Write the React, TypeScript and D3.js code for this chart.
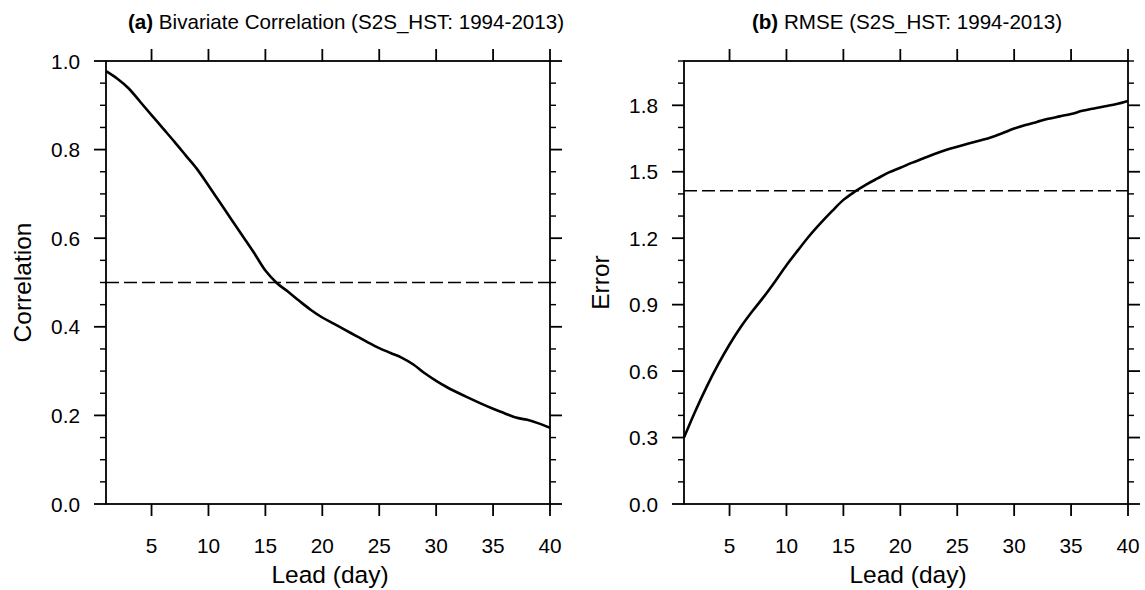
import React from "react";
import * as d3 from "d3";

// Lead times (days)
const leadDays: number[] = Array.from({ length: 40 }, (_, i) => i + 1);

// Bivariate correlation by lead day
const correlation: number[] = [
  0.977, 0.96, 0.938, 0.908, 0.878, 0.848, 0.818, 0.787, 0.756, 0.719,
  0.681, 0.643, 0.605, 0.567, 0.527, 0.499, 0.479, 0.458, 0.438, 0.421,
  0.407, 0.393, 0.379, 0.365, 0.352, 0.341, 0.33, 0.315, 0.295, 0.278,
  0.263, 0.25, 0.238, 0.226, 0.215, 0.205, 0.195, 0.19, 0.182, 0.172,
];

// RMSE by lead day
const rmse: number[] = [
  0.3, 0.42, 0.53, 0.63, 0.72, 0.8, 0.87, 0.935, 1.005, 1.078,
  1.145, 1.21, 1.268, 1.322, 1.373, 1.41, 1.442, 1.47, 1.497, 1.518,
  1.54, 1.56, 1.58, 1.598, 1.613, 1.627, 1.641, 1.656, 1.675, 1.695,
  1.711, 1.725, 1.739, 1.75, 1.761, 1.775, 1.786, 1.796, 1.806, 1.82,
];

const xTicks: number[] = [5, 10, 15, 20, 25, 30, 35, 40];

const corrMajor: number[] = [0, 0.2, 0.4, 0.6, 0.8, 1.0];
const rmseMajor: number[] = [0, 0.3, 0.6, 0.9, 1.2, 1.5, 1.8];

const corrThreshold = 0.5;
const rmseThreshold = Math.SQRT2;

const FONT = "'Liberation Sans', Arial, Helvetica, sans-serif";

type PanelProps = {
  left: number;
  right: number;
  titleX: number;
  tag: string;
  title: string;
  yLabel: string;
  values: number[];
  yMax: number;
  majors: number[];
  minorStep: number;
  threshold: number;
};

const TOP = 61;
const BOTTOM = 504;
const MAJOR_LEN = 12;
const MINOR_LEN = 6;

function Panel(p: PanelProps) {
  const x = d3.scaleLinear().domain([1, 40]).range([p.left, p.right]);
  const y = d3.scaleLinear().domain([0, p.yMax]).range([BOTTOM, TOP]);

  const nMinor = Math.round(p.yMax / p.minorStep);
  const minors = d3
    .range(0, nMinor + 1)
    .map((i) => +(i * p.minorStep).toFixed(4))
    .filter((v) => !p.majors.some((m) => Math.abs(m - v) < 1e-6));

  const line = d3
    .line<number>()
    .x((_, i) => x(leadDays[i]))
    .y((v) => y(v))
    .curve(d3.curveMonotoneX);

  const cx = (p.left + p.right) / 2;
  const cy = (TOP + BOTTOM) / 2;
  const sw = 1.8;

  return (
    <g>
      {/* title */}
      <text
        x={p.titleX}
        y={29}
        textAnchor="middle"
        fontSize={20.6}
        fontFamily={FONT}
        fill="#000"
      >
        <tspan fontWeight="bold">{p.tag}</tspan>
        <tspan>{" " + p.title}</tspan>
      </text>

      {/* reference line */}
      <line
        x1={p.left}
        x2={p.right}
        y1={y(p.threshold)}
        y2={y(p.threshold)}
        stroke="#000"
        strokeWidth={1.3}
        strokeDasharray="13 5"
      />

      {/* data curve */}
      <path
        d={line(p.values) || ""}
        fill="none"
        stroke="#000"
        strokeWidth={2.6}
        strokeLinejoin="round"
      />

      {/* frame */}
      <rect
        x={p.left}
        y={TOP}
        width={p.right - p.left}
        height={BOTTOM - TOP}
        fill="none"
        stroke="#000"
        strokeWidth={sw}
      />

      {/* x ticks, bottom and top */}
      {xTicks.map((t) => (
        <g key={"xt" + t}>
          <line x1={x(t)} x2={x(t)} y1={BOTTOM} y2={BOTTOM + MAJOR_LEN} stroke="#000" strokeWidth={sw} />
          <line x1={x(t)} x2={x(t)} y1={TOP} y2={TOP - MAJOR_LEN} stroke="#000" strokeWidth={sw} />
          <text
            x={x(t)}
            y={BOTTOM + 49}
            textAnchor="middle"
            fontSize={20.8}
            fontFamily={FONT}
          >
            {t}
          </text>
        </g>
      ))}

      {/* y major ticks, left and right */}
      {p.majors.map((t) => (
        <g key={"ym" + t}>
          <line x1={p.left} x2={p.left - MAJOR_LEN} y1={y(t)} y2={y(t)} stroke="#000" strokeWidth={sw} />
          <line x1={p.right} x2={p.right + MAJOR_LEN} y1={y(t)} y2={y(t)} stroke="#000" strokeWidth={sw} />
          <text
            x={p.left - 26}
            y={y(t) + 7.5}
            textAnchor="end"
            fontSize={20.8}
            fontFamily={FONT}
          >
            {t.toFixed(1)}
          </text>
        </g>
      ))}

      {/* y minor ticks */}
      {minors.map((t) => (
        <g key={"yn" + t}>
          <line x1={p.left} x2={p.left - MINOR_LEN} y1={y(t)} y2={y(t)} stroke="#000" strokeWidth={sw * 0.8} />
          <line x1={p.right} x2={p.right + MINOR_LEN} y1={y(t)} y2={y(t)} stroke="#000" strokeWidth={sw * 0.8} />
        </g>
      ))}

      {/* axis titles */}
      <text
        x={cx + 2}
        y={583}
        textAnchor="middle"
        fontSize={24.5}
        fontFamily={FONT}
      >
        Lead (day)
      </text>
      <text
        transform={`translate(${p.left - 75},${cy}) rotate(-90)`}
        textAnchor="middle"
        fontSize={24.5}
        fontFamily={FONT}
      >
        {p.yLabel}
      </text>
    </g>
  );
}

export default function App() {
  return (
    <svg
      width={1145}
      height={590}
      viewBox="0 0 1145 590"
      style={{ position: "absolute", left: 0, top: 0, background: "#fff" }}
    >
      <rect width={1145} height={590} fill="#fff" />
      <Panel
        left={106}
        right={550}
        titleX={346}
        tag="(a)"
        title="Bivariate Correlation (S2S_HST: 1994-2013)"
        yLabel="Correlation"
        values={correlation}
        yMax={1.0}
        majors={corrMajor}
        minorStep={0.05}
        threshold={corrThreshold}
      />
      <Panel
        left={684}
        right={1128}
        titleX={907}
        tag="(b)"
        title="RMSE (S2S_HST: 1994-2013)"
        yLabel="Error"
        values={rmse}
        yMax={2.0}
        majors={rmseMajor}
        minorStep={0.1}
        threshold={rmseThreshold}
      />
    </svg>
  );
}
